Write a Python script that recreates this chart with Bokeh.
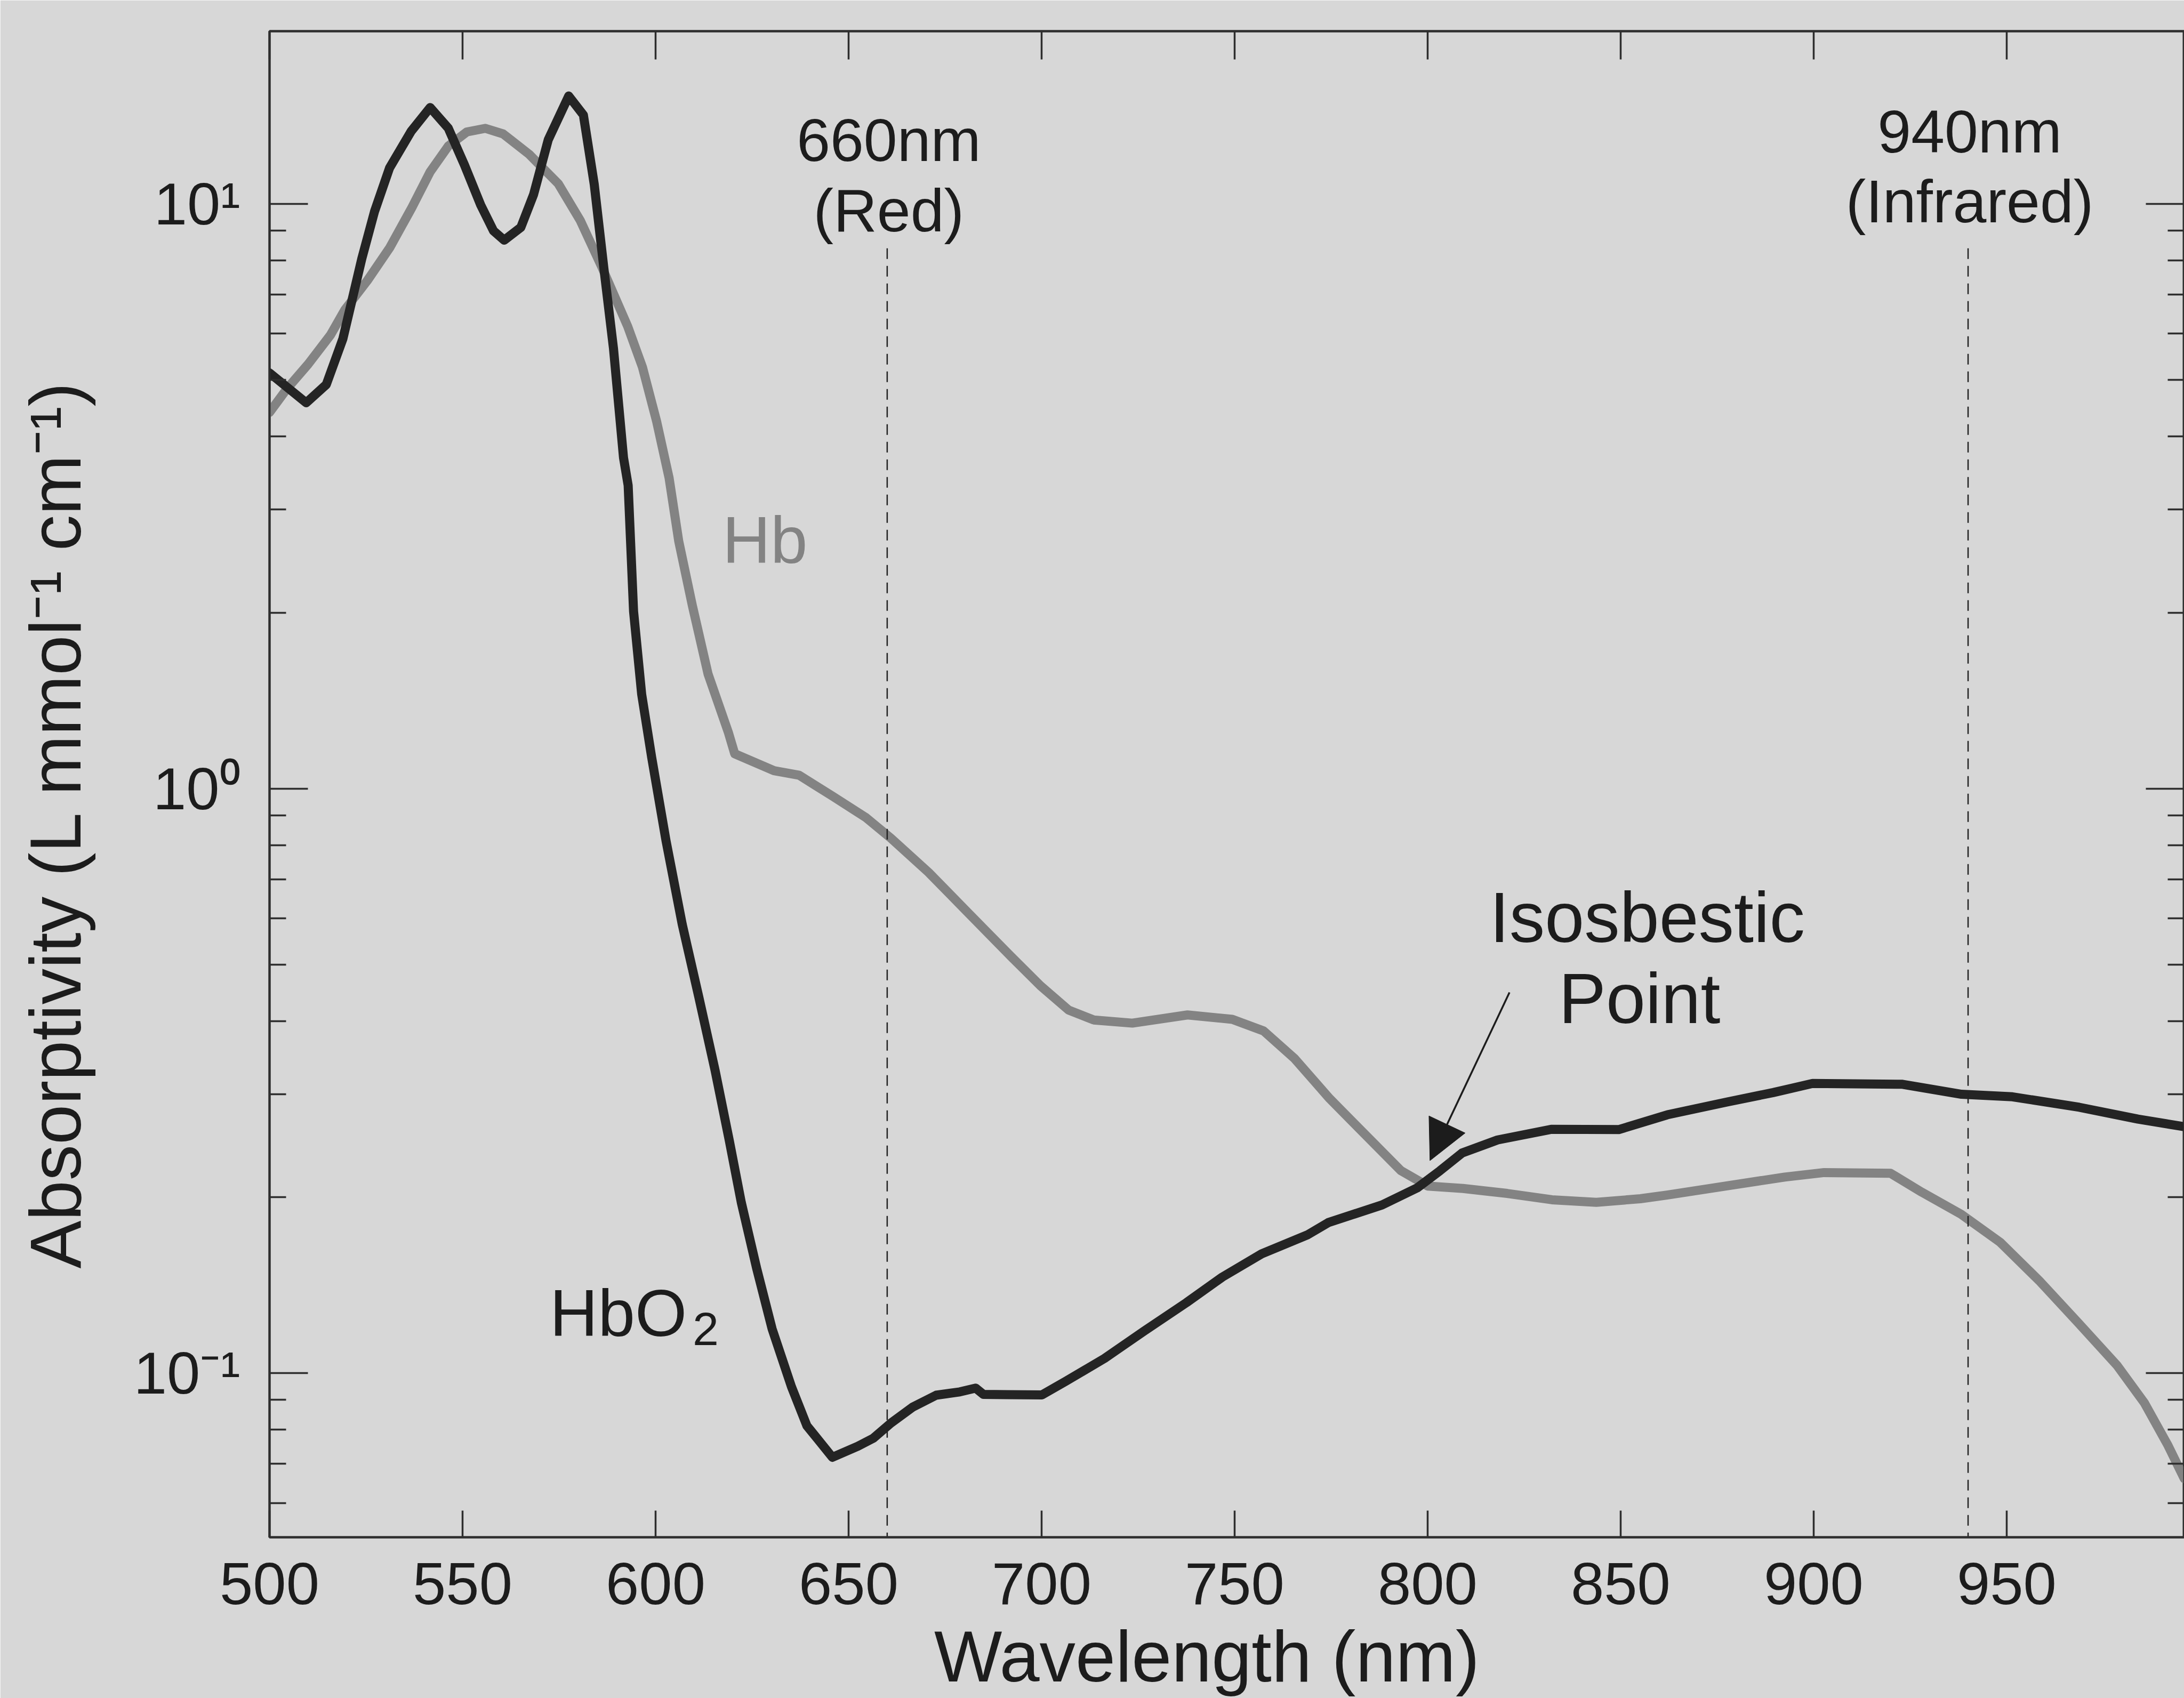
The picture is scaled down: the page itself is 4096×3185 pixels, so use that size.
import math
from bokeh.plotting import figure
from bokeh.models import (Range1d, FixedTicker, LinearAxis, LogAxis, Label,
                          Arrow, NormalHead, CustomJSTickFormatter)
from bokeh.embed import file_html
from bokeh.resources import INLINE

# ---------------- data ----------------
hbo2_wavelength = [500, 509.5, 514.7, 519, 523.9, 527.2, 531.1, 536.7, 541.6, 546.3,
                   550.5, 554.7, 558, 560.8, 565.1, 568.4, 572.2, 577.5, 581.3, 584.1,
                   586.6, 589.1, 591.7, 592.9, 594.3, 596.4, 599, 602.7, 606.9, 611.2,
                   615.4, 619.1, 622.2, 626.2, 630.2, 635.2, 639.2, 645.8, 652.4, 656.4,
                   661, 666.6, 672.7, 678.8, 682.9, 684.9, 690.9, 700.1, 706.2, 716.3,
                   726.5, 737.5, 746.8, 757, 769, 774.3, 788.2, 797.3, 803.2, 808.9,
                   818.1, 832, 849.5, 862.1, 877.6, 889.5, 899.7, 923, 938.3, 951.5,
                   968.8, 984, 996]
hbo2_absorptivity = [5.14, 4.57, 4.91, 5.88, 8.06, 9.71, 11.53, 13.32, 14.62, 13.48,
                     11.66, 9.96, 9.0, 8.67, 9.12, 10.38, 12.88, 15.3, 14.2, 10.82,
                     7.77, 5.66, 3.68, 3.30, 2.01, 1.45, 1.13, 0.815, 0.586, 0.44,
                     0.33, 0.25, 0.196, 0.151, 0.119, 0.0948, 0.0813, 0.0718, 0.0750, 0.0774,
                     0.0822, 0.0875, 0.0917, 0.0929, 0.0943, 0.0920, 0.0919, 0.0918, 0.0968, 0.106,
                     0.118, 0.132, 0.146, 0.160, 0.1726, 0.181, 0.194, 0.2075, 0.222, 0.238,
                     0.2506, 0.2613, 0.261, 0.2767, 0.291, 0.302, 0.313, 0.312, 0.300, 0.297,
                     0.285, 0.272, 0.264]

hb_wavelength = [500, 504.4, 510, 515.8, 519.5, 525.3, 531.1, 536.8, 541.6, 546.3,
                 551.1, 555.9, 560.5, 567.2, 574.8, 580.5, 586.2, 592.8, 596.6, 600.3,
                 603.5, 606, 609.5, 613.6, 618.9, 620.5, 630.7, 637.2, 645.9, 654.4,
                 661, 670.7, 681.4, 692.1, 699.7, 707, 713.5, 723.5, 737.8, 749.4,
                 757.5, 765.5, 774.6, 783.8, 793.1, 800, 809.2, 820.6, 832.2, 843.7,
                 855.1, 862, 877.3, 892.5, 902.7, 919.9, 928, 938.2, 948.3, 958.4,
                 968.5, 978.6, 985.7, 991.8, 996]
hb_absorptivity = [4.40, 4.82, 5.32, 5.97, 6.59, 7.39, 8.41, 9.84, 11.35, 12.56,
                   13.28, 13.47, 13.18, 12.17, 10.83, 9.37, 7.77, 6.17, 5.26, 4.24,
                   3.4, 2.65, 2.06, 1.57, 1.245, 1.147, 1.073, 1.054, 0.970, 0.893,
                   0.822, 0.719, 0.609, 0.516, 0.460, 0.418, 0.402, 0.397, 0.410, 0.403,
                   0.385, 0.3455, 0.295, 0.256, 0.222, 0.209, 0.207, 0.203, 0.198, 0.196,
                   0.1988, 0.2017, 0.209, 0.2165, 0.2204, 0.2198, 0.204, 0.187, 0.1675, 0.144,
                   0.122, 0.1031, 0.0889, 0.0752, 0.066]

marker_wavelengths = [660, 940]
marker_names = ["660nm", "940nm"]
marker_bands = ["(Red)", "(Infrared)"]

x_tick_values = [500, 550, 600, 650, 700, 750, 800, 850, 900, 950]
y_major_values = [0.1, 1, 10]
y_major_labels = ["10\u207b\u00b9", "10\u2070", "10\u00b9"]

x_title = "Wavelength (nm)"
y_title = "Absorptivity (L mmol\u207b\u00b9 cm\u207b\u00b9)"

# ---------------- style ----------------
BG = "#d7d7d7"
INK = "#1c1c1c"
AXIS = "#2e2e2e"
HB_GREY = "#838383"
HBO2_DARK = "#242424"
FONT = "Liberation Sans"
NBSP = "\u00a0"

W, H = 4096, 3185
X0, X1 = 500, 996
Y0, Y1 = 0.0524, 19.75
DASH_TOP = 8.4

p = figure(width=W, height=H, x_range=Range1d(X0, X1), y_range=Range1d(Y0, Y1),
           y_axis_type="log", output_backend="svg", toolbar_location=None,
           min_border_left=505, min_border_right=0, min_border_top=58,
           min_border_bottom=300, background_fill_color=BG, border_fill_color=BG)
p.outline_line_color = AXIS
p.outline_line_width = 4
p.grid.visible = False

y_minor = [m * 10.0 ** e for e in (-2, -1, 0) for m in range(2, 10)
           if Y0 <= m * 10.0 ** e <= Y1]
y_ticker = FixedTicker(ticks=y_major_values, minor_ticks=y_minor)
x_ticker = FixedTicker(ticks=x_tick_values)


def style_axis(ax, tick_in, minor_in=0, show_labels=False):
    ax.axis_line_color = AXIS
    ax.axis_line_width = 4
    ax.major_tick_in = tick_in
    ax.major_tick_out = 0
    ax.major_tick_line_color = AXIS
    ax.major_tick_line_width = 3.5
    if minor_in:
        ax.minor_tick_in = minor_in
        ax.minor_tick_out = 0
        ax.minor_tick_line_color = AXIS
        ax.minor_tick_line_width = 3.5
    else:
        ax.minor_tick_line_color = None
    if show_labels:
        ax.major_label_text_font = FONT
        ax.major_label_text_font_size = "112px"
        ax.major_label_text_color = INK
    else:
        ax.major_label_text_font_size = "0px"
        ax.major_label_text_color = None
        ax.major_label_standoff = 0


# bottom axis
xb = p.xaxis[0]
xb.ticker = x_ticker
style_axis(xb, 50, show_labels=True)
xb.major_label_standoff = 48
xb.axis_label = x_title + NBSP * 2
xb.axis_label_text_font = FONT
xb.axis_label_text_font_size = "135px"
xb.axis_label_text_font_style = "normal"
xb.axis_label_text_color = INK
xb.axis_label_standoff = 20

# left axis
yl = p.yaxis[0]
yl.ticker = y_ticker
style_axis(yl, 72, 31, show_labels=True)
yl.formatter = CustomJSTickFormatter(
    args=dict(vals=y_major_values, labs=y_major_labels),
    code="""
    for (let i = 0; i < vals.length; i++) {
        if (Math.abs(vals[i] - tick) < 1e-6 * vals[i]) return labs[i];
    }
    return "";
    """)
yl.major_label_standoff = 55
yl.axis_label = y_title + NBSP * 4
yl.axis_label_text_font = FONT
yl.axis_label_text_font_size = "135px"
yl.axis_label_text_font_style = "normal"
yl.axis_label_text_color = INK
yl.axis_label_standoff = 68

# top and right axes: ticks only
xt = LinearAxis(ticker=x_ticker)
style_axis(xt, 53)
p.add_layout(xt, "above")
yr = LogAxis(ticker=y_ticker)
style_axis(yr, 72, 31)
p.add_layout(yr, "right")

# ---------------- curves ----------------
p.line(hb_wavelength, hb_absorptivity, line_width=17, line_color=HB_GREY,
       line_join="round", line_cap="round")
p.line(hbo2_wavelength, hbo2_absorptivity, line_width=17, line_color=HBO2_DARK,
       line_join="round", line_cap="round")

# wavelength markers
p.segment(x0=marker_wavelengths, y0=[DASH_TOP] * len(marker_wavelengths),
          x1=marker_wavelengths, y1=[Y0] * len(marker_wavelengths),
          line_color="#222222", line_width=2.5, line_dash="20 13")


def lab(text, x, y, size, xo=0, yo=0, align="left", color=INK):
    p.add_layout(Label(x=x, y=y, x_offset=xo, y_offset=yo, text=text,
                       text_font=FONT, text_font_size=f"{size}px",
                       text_color=color, text_align=align,
                       text_baseline="alphabetic"))


name_offsets = [203, 219]
band_offsets = [71, 88]
for wl, name, band, yo1, yo2 in zip(marker_wavelengths, marker_names, marker_bands,
                                    name_offsets, band_offsets):
    lab(name, wl, DASH_TOP, 113, xo=3, yo=yo1, align="center")
    lab(band, wl, DASH_TOP, 113, xo=3, yo=yo2, align="center")

# curve labels
lab("Hb", 617.3, 2.48, 125, yo=34, color=HB_GREY)
lab("HbO", 572.6, 0.117, 125, yo=38)
lab("2", 572.6, 0.117, 88, xo=268, yo=8)

# isosbestic annotation
lab("Isosbestic", 856.9, 0.539, 133, yo=52, align="center")
lab("Point", 854.9, 0.394, 133, yo=50, align="center")
p.add_layout(Arrow(end=NormalHead(size=75, fill_color=INK, line_color=INK),
                   x_start=821.2, y_start=0.448, x_end=800.6, y_end=0.231,
                   line_color=INK, line_width=3.5))

open("out.html", "w").write(file_html(p, INLINE))
